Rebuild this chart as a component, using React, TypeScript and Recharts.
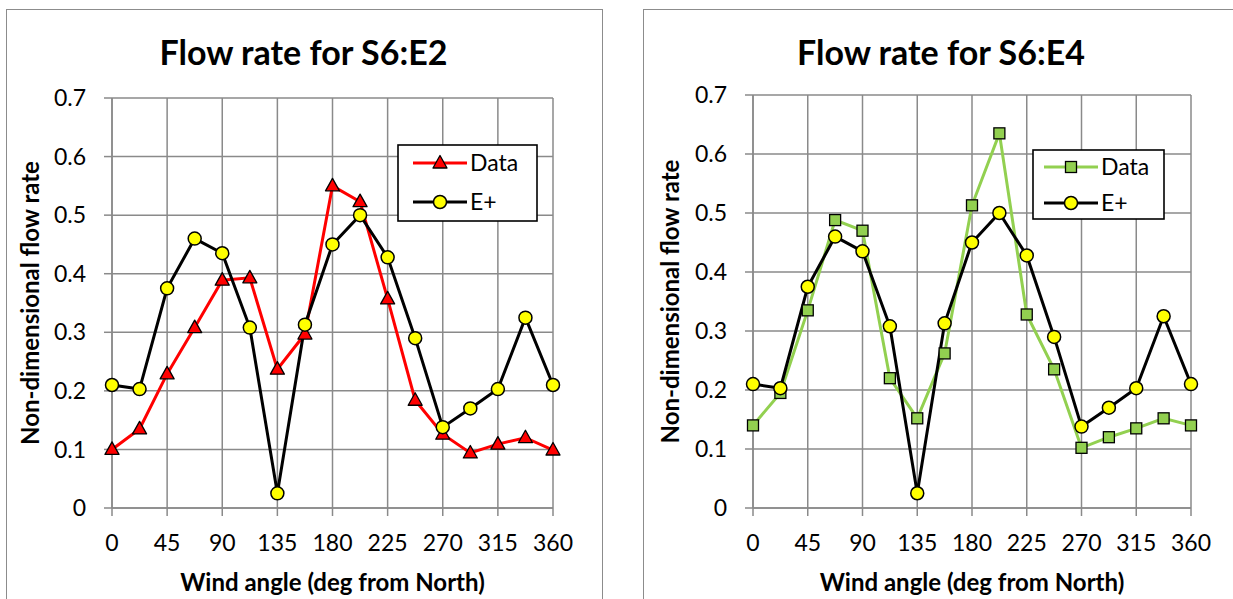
import { LineChart, Line, XAxis, YAxis, CartesianGrid, Legend } from 'recharts'

const angles = [0, 22.5, 45, 67.5, 90, 112.5, 135, 157.5, 180, 202.5, 225, 247.5, 270, 292.5, 315, 337.5, 360]
const dataE2 = [0.1, 0.135, 0.229, 0.308, 0.389, 0.393, 0.237, 0.297, 0.55, 0.523, 0.357, 0.184, 0.126, 0.094, 0.109, 0.12, 0.099]
const dataE4 = [0.14, 0.195, 0.335, 0.488, 0.47, 0.22, 0.152, 0.262, 0.513, 0.635, 0.328, 0.235, 0.102, 0.12, 0.135, 0.152, 0.14]
const ePlus = [0.21, 0.203, 0.375, 0.46, 0.435, 0.308, 0.025, 0.313, 0.45, 0.5, 0.428, 0.29, 0.138, 0.17, 0.203, 0.325, 0.21]
const xTicks = [0, 45, 90, 135, 180, 225, 270, 315, 360]
const yTicks = [0, 0.1, 0.2, 0.3, 0.4, 0.5, 0.6, 0.7]

const FONT = 'Lato, "Open Sans", sans-serif'
const GRID = '#8a8a8a'

type Shape = 'triangle' | 'square'

function marker(shape: Shape, cx: number, cy: number, fill: string, key?: string) {
  if (shape === 'triangle') {
    return (
      <path
        key={key}
        d={`M${cx},${cy - 7.5}L${cx + 7},${cy + 5}L${cx - 7},${cy + 5}Z`}
        fill={fill}
        stroke="#000"
        strokeWidth={1.3}
        strokeLinejoin="round"
      />
    )
  }
  return <rect key={key} x={cx - 5.5} y={cy - 5.5} width={11} height={11} fill={fill} stroke="#000" strokeWidth={1.3} />
}

interface PanelProps {
  title: string
  values: number[]
  color: string
  shape: Shape
  left: number
  width: number
  plotLeft: number
  plotRight: number
  plotTop: number
  frameLeft: number
  frameWidth: number
  legend: { x: number; y: number; w: number; h: number; lx1: number; lx2: number; tx: number; y1: number; y2: number }
}

function Panel({ title, values, color, shape, left, width, plotLeft, plotRight, plotTop, frameLeft, frameWidth, legend }: PanelProps) {
  const rows = angles.map((a, i) => ({ angle: a, data: values[i], eplus: ePlus[i] }))
  const lg = legend
  const mid = (lg.lx1 + lg.lx2) / 2

  const legendContent = () => (
    <svg width={lg.w} height={lg.h} style={{ display: 'block' }}>
      <rect x={1} y={1} width={lg.w - 2} height={lg.h - 2} fill="#fff" stroke="#000" strokeWidth={1.6} />
      <line x1={lg.lx1} x2={lg.lx2} y1={lg.y1} y2={lg.y1} stroke={color} strokeWidth={3} />
      {marker(shape, mid, lg.y1, color)}
      <text x={lg.tx} y={lg.y1 + 8} fontSize={23} fontFamily={FONT} fill="#000">Data</text>
      <line x1={lg.lx1} x2={lg.lx2} y1={lg.y2} y2={lg.y2} stroke="#000" strokeWidth={3} />
      <circle cx={mid} cy={lg.y2} r={6.5} fill="#FFFF00" stroke="#000" strokeWidth={1.5} />
      <text x={lg.tx} y={lg.y2 + 8} fontSize={23} fontFamily={FONT} fill="#000">E+</text>
    </svg>
  )

  return (
    <>
      <div
        style={{
          position: 'absolute',
          left: frameLeft,
          top: 9,
          width: frameWidth,
          height: 640,
          border: '1.5px solid #8c8c8c',
          background: '#fff',
        }}
      />
      <div
        style={{
          position: 'absolute',
          left: frameLeft,
          width: frameWidth,
          top: 30,
          textAlign: 'center',
          fontFamily: FONT,
          fontWeight: 700,
          fontSize: 34,
          lineHeight: '44px',
          color: '#000',
        }}
      >
        {title}
      </div>
      <div style={{ position: 'absolute', left, top: 0 }}>
        <LineChart
          width={width}
          height={599}
          data={rows}
          margin={{ top: plotTop, right: width - plotRight, bottom: 51, left: 10 }}
        >
          <CartesianGrid stroke={GRID} strokeWidth={1.5} />
          <XAxis
            dataKey="angle"
            type="number"
            domain={[0, 360]}
            ticks={xTicks}
            interval={0}
            height={40}
            tickSize={8}
            tickMargin={19}
            axisLine={{ stroke: GRID, strokeWidth: 1.5 }}
            tickLine={{ stroke: GRID, strokeWidth: 1.5 }}
            tick={{ fontSize: 23, fontFamily: FONT, fill: '#000' }}
            label={{
              value: 'Wind angle (deg from North)',
              position: 'bottom',
              offset: 26,
              style: { fontSize: 24, fontWeight: 700, fontFamily: FONT, fill: '#000' },
            }}
          />
          <YAxis
            type="number"
            domain={[0, 0.7]}
            ticks={yTicks}
            interval={0}
            width={plotLeft - 10}
            tickSize={8}
            tickMargin={18}
            axisLine={{ stroke: GRID, strokeWidth: 1.5 }}
            tickLine={{ stroke: GRID, strokeWidth: 1.5 }}
            tick={{ fontSize: 23, fontFamily: FONT, fill: '#000' }}
            tickFormatter={(v: number) => (v === 0 ? '0' : v.toFixed(1))}
            label={{
              value: 'Non-dimensional flow rate',
              angle: -90,
              position: 'insideLeft',
              offset: 20,
              style: { textAnchor: 'middle', fontSize: 24, fontWeight: 700, fontFamily: FONT, fill: '#000' },
            }}
          />
          <Legend
            layout="vertical"
            align="center"
            verticalAlign="middle"
            content={legendContent}
            wrapperStyle={{ left: lg.x, top: lg.y, width: lg.w, height: lg.h }}
          />
          <Line
            type="linear"
            dataKey="data"
            name="Data"
            stroke={color}
            strokeWidth={3}
            dot={(p: any) => marker(shape, p.cx, p.cy, color, `m-${p.index}`)}
            activeDot={false}
            isAnimationActive={false}
          />
          <Line
            type="linear"
            dataKey="eplus"
            name="E+"
            stroke="#000"
            strokeWidth={3}
            dot={{ r: 6.5, fill: '#FFFF00', stroke: '#000', strokeWidth: 1.5 }}
            activeDot={false}
            isAnimationActive={false}
          />
        </LineChart>
      </div>
    </>
  )
}

export default function App() {
  return (
    <div
      style={{
        position: 'absolute',
        left: 0,
        top: 0,
        width: 1233,
        height: 599,
        overflow: 'hidden',
        background: '#fff',
      }}
    >
      <Panel
        title="Flow rate for S6:E2"
        values={dataE2}
        color="#FF0000"
        shape="triangle"
        left={0}
        width={610}
        plotLeft={112}
        plotRight={553}
        plotTop={98}
        frameLeft={6}
        frameWidth={595}
        legend={{ x: 397, y: 144, w: 141, h: 78, lx1: 16, lx2: 70, tx: 73, y1: 19, y2: 58 }}
      />
      <Panel
        title="Flow rate for S6:E4"
        values={dataE4}
        color="#92D050"
        shape="square"
        left={640}
        width={593}
        plotLeft={113}
        plotRight={551}
        plotTop={95}
        frameLeft={643}
        frameWidth={596}
        legend={{ x: 392, y: 149, w: 133, h: 71, lx1: 12, lx2: 66, tx: 69, y1: 18, y2: 54 }}
      />
    </div>
  )
}
